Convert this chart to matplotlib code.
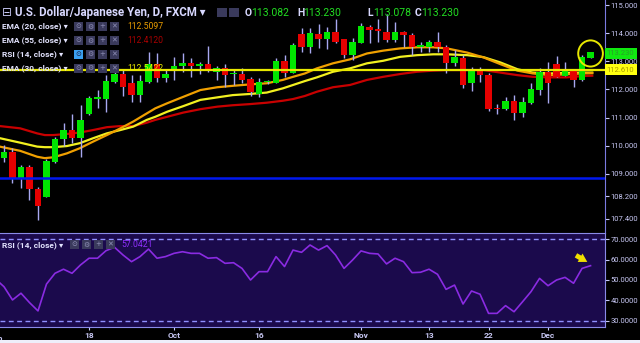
"""USD/JPY daily candles with EMAs and RSI (FXCM style), matplotlib Agg."""

import matplotlib
matplotlib.use("Agg")
import matplotlib.pyplot as plt  # noqa: E402
import matplotlib.transforms as mtransforms  # noqa: E402
import numpy as np  # noqa: E402
from matplotlib.patches import Ellipse, Rectangle  # noqa: E402

plt.rcParams["font.family"] = ["Roboto", "DejaVu Sans"]

# daily candles, Sep 4 .. Dec 8 (index 0 = Sep 4)
opens = [109.56, 109.77, 108.85, 109.26, 108.47, 108.19, 109.44, 110.23, 110.56, 110.29,
         111.13, 111.66, 111.66, 112.28, 112.54, 112.24, 111.80, 112.28, 112.90, 112.40,
         112.73, 112.83, 112.95, 112.83, 112.89, 112.63, 112.75, 112.55, 112.55, 112.36,
         111.83, 112.25, 112.24, 113.01, 112.60, 113.96, 113.52, 113.97, 113.79, 114.03,
         113.78, 113.22, 113.66, 114.23, 114.14, 114.05, 113.76, 114.05, 113.93, 113.52,
         113.52, 113.70, 113.52, 112.93, 113.11, 112.22, 112.69, 112.51, 111.31, 111.30,
         111.59, 111.15, 111.53, 111.98, 112.63, 112.90, 112.48, 112.67, 112.34, 113.13]
highs = [110.03, 109.91, 109.32, 109.32, 108.55, 109.52, 110.32, 110.80, 111.12, 111.45,
         111.77, 111.98, 112.51, 112.81, 112.69, 112.51, 112.51, 113.34, 113.31, 112.72,
         113.14, 113.28, 113.11, 112.99, 113.54, 112.83, 112.90, 112.69, 112.75, 112.45,
         112.40, 112.34, 113.11, 113.22, 113.64, 114.17, 114.17, 114.33, 114.23, 114.50,
         113.80, 113.82, 114.35, 114.29, 114.49, 114.70, 114.41, 114.07, 113.99, 113.70,
         113.76, 114.03, 113.58, 113.40, 113.22, 112.81, 112.81, 112.57, 111.48, 111.72,
         111.80, 111.72, 112.24, 112.75, 112.99, 113.19, 112.99, 112.70, 113.22, 113.33]
lows = [109.44, 108.69, 108.49, 108.08, 107.37, 108.19, 109.38, 109.99, 110.09, 109.61,
        111.09, 111.33, 111.19, 112.22, 111.77, 111.57, 111.57, 112.22, 112.28, 112.28,
        112.34, 112.63, 112.43, 112.55, 112.63, 112.34, 112.10, 112.16, 112.22, 111.77,
        111.74, 112.19, 112.22, 112.45, 112.57, 113.34, 113.31, 113.46, 113.44, 113.64,
        113.11, 113.05, 113.64, 113.64, 113.70, 113.70, 113.70, 113.52, 113.22, 113.34,
        113.34, 113.34, 112.57, 112.83, 112.04, 111.96, 112.28, 111.25, 111.13, 111.27,
        110.92, 111.03, 111.48, 111.80, 111.51, 112.43, 112.48, 112.10, 112.31, 113.12]
closes = [109.79, 108.85, 109.26, 108.46, 107.87, 109.46, 110.24, 110.56, 110.29, 110.92,
          111.69, 111.72, 112.30, 112.54, 112.10, 111.80, 112.30, 112.90, 112.40, 112.55,
          112.83, 112.95, 112.83, 112.90, 112.67, 112.75, 112.51, 112.59, 112.34, 111.90,
          112.25, 112.28, 113.01, 112.60, 113.58, 113.52, 114.00, 113.79, 114.03, 113.70,
          113.22, 113.70, 114.25, 114.11, 114.09, 113.76, 114.05, 113.93, 113.52, 113.58,
          113.70, 113.52, 112.95, 113.14, 112.16, 112.69, 112.51, 111.30, 111.29, 111.60,
          111.15, 111.57, 112.00, 112.63, 112.24, 112.45, 112.67, 112.34, 113.17, 113.32]

# EMA curves (x in candle index units)
ema_idx = [-0.5, 1.9, 3.9, 4.8, 5.8, 7.4, 8.9, 10.5, 12.1, 13.7, 15.2, 16.8, 17.8, 19.2,
           21.1, 23.1, 25.1, 26.9, 28.9, 30.9, 32.8, 34.0, 35.4, 36.8, 38.7, 40.7, 42.7,
           44.6, 46.6, 48.6, 50.5, 52.1, 54.5, 56.4, 58.4, 60.4, 62.2, 64.2, 66.2, 68.1, 69.2]
ema20 = [109.97, 109.82, 109.61, 109.56, 109.59, 109.73, 109.91, 110.15, 110.38, 110.62,
         110.86, 111.15, 111.33, 111.51, 111.74, 111.98, 112.08, 112.13, 112.18, 112.22,
         112.34, 112.45, 112.57, 112.75, 112.93, 113.07, 113.28, 113.38, 113.46, 113.50,
         113.50, 113.46, 113.31, 113.14, 112.90, 112.67, 112.57, 112.51, 112.54, 112.57, 112.58]
ema30 = [110.27, 110.11, 109.97, 109.95, 109.95, 109.99, 110.09, 110.27, 110.44, 110.56,
         110.68, 110.92, 111.03, 111.21, 111.41, 111.63, 111.72, 111.80, 111.84, 111.89,
         112.04, 112.16, 112.30, 112.43, 112.63, 112.75, 112.93, 113.02, 113.16, 113.22,
         113.25, 113.25, 113.22, 113.15, 112.96, 112.72, 112.60, 112.57, 112.59, 112.60, 112.60]
ema55 = [110.70, 110.62, 110.44, 110.38, 110.38, 110.42, 110.47, 110.56, 110.66, 110.70,
         110.70, 110.82, 110.92, 111.03, 111.18, 111.30, 111.39, 111.44, 111.48, 111.53,
         111.60, 111.66, 111.77, 111.92, 112.08, 112.16, 112.34, 112.45, 112.55, 112.63,
         112.67, 112.69, 112.69, 112.69, 112.60, 112.51, 112.45, 112.43, 112.43, 112.48, 112.49]

# RSI(14), index -1 = Sep 1
rsi = [50.5, 46.7, 40.2, 43.5, 38.9, 34.8, 48.0, 53.3, 55.3, 53.3, 57.4,
       60.7, 60.7, 64.4, 66.1, 62.3, 59.0, 61.5, 65.2, 60.7, 61.5,
       63.1, 63.9, 63.1, 63.1, 60.7, 61.0, 58.2, 58.5, 55.7, 50.0,
       54.1, 54.1, 61.5, 56.6, 64.7, 63.6, 67.2, 64.7, 66.9, 62.3,
       55.7, 59.8, 64.3, 63.1, 62.8, 57.9, 60.7, 59.0, 53.6, 53.8,
       55.3, 52.8, 45.4, 47.5, 38.2, 44.6, 43.0, 33.6, 33.6, 37.4,
       34.4, 39.3, 44.3, 50.8, 47.2, 50.0, 51.3, 48.4, 55.7, 57.04]

hline_yellow = 112.70
hline_blue = 108.87

date_idx = [10, 20, 30, 42, 50, 57, 64]
date_labels = ["18", "Oct", "16", "Nov", "13", "22", "Dec"]
price_ticks = [115.0, 114.0, 113.0, 112.0, 111.0, 110.0, 109.0, 108.2, 107.4]
rsi_ticks = [30, 40, 50, 60, 70]

LAV = "#c8c8f4"
W, H = 640, 343


def fx(px):
    return px / W


def fy(py):
    return 1 - py / H


fig = plt.figure(figsize=(6.4, 3.43), dpi=100, facecolor="black")
ax = fig.add_axes([0, fy(233), fx(605), 233 / H], facecolor="black")
rax = fig.add_axes([0, fy(327), fx(605), 94 / H], facecolor="#1b0a4c")

# candles
o, h, l, c = map(np.array, (opens, highs, lows, closes))
idx = np.arange(len(c))
ax.vlines(idx, l, h, color="#a8a8f0", lw=1, zorder=2)
ax.bar(idx, np.maximum(np.abs(c - o), 0.04), 0.74, np.minimum(o, c),
       color=np.where(c >= o, "#00e600", "#e60000"), lw=0, zorder=3)

ax.plot(ema_idx, ema55, color="#c80000", lw=1.6, zorder=1.5)
ax.plot(ema_idx, ema30, color="#f2f020", lw=1.6, zorder=1.6)
ax.plot(ema_idx, ema20, color="#f0a000", lw=1.6, zorder=1.7)
ax.axhline(hline_yellow, color="#e8e800", lw=1.6, zorder=4)
ax.axhline(hline_blue, color="#0018f0", lw=1.8, zorder=4)

ax.add_patch(Ellipse((69.0, 113.28), 2.9, 0.93, fill=False, ec="#e8e800",
                     lw=1.4, zorder=5, clip_on=False))

ax.set_xlim(-0.47, 70.7)
ax.set_ylim(106.90, 115.18)
ax.set_xticks([])
ax.yaxis.tick_right()
ax.set_yticks(price_ticks)
ax.set_yticklabels([f"{v:.3f}" for v in price_ticks])
for s in ("left", "top", "bottom"):
    ax.spines[s].set_visible(False)
ax.spines["right"].set_color("#7a7ae0")
ax.tick_params(axis="y", colors=LAV, labelsize=5.5, length=3, width=0.8, pad=1)

# RSI panel
rax.plot(np.arange(-1, len(rsi) - 1), rsi, color="#8a2be2", lw=1.2, zorder=3)
for lvl in (70, 30):
    rax.axhline(lvl, color="#9090ff", lw=1, ls=(0, (3.5, 2.5)), zorder=2)
rax.annotate("", xy=(68.9, 58.2), xytext=(67.0, 62.8),
             arrowprops=dict(arrowstyle="simple,head_width=0.7,head_length=0.6,tail_width=0.35",
                             color="#f0e000", lw=0))
rax.set_xlim(-0.47, 70.7)
rax.set_ylim(26.9, 73.1)
rax.yaxis.tick_right()
rax.set_yticks(rsi_ticks)
rax.set_yticklabels([f"{v:.4f}" for v in rsi_ticks])
rax.set_xticks(date_idx)
rax.set_xticklabels(date_labels, fontweight="bold")
rax.spines["left"].set_visible(False)
for s in ("top", "right", "bottom"):
    rax.spines[s].set_color("#8a8ae8")
rax.tick_params(axis="y", colors=LAV, labelsize=5.5, length=3, width=0.8, pad=1)
rax.tick_params(axis="x", colors=LAV, labelsize=6, length=2, width=0.8, pad=1.5)
rax.text(-1, -0.085, "Sep", transform=mtransforms.blended_transform_factory(rax.transData, rax.transAxes),
         ha="center", va="top", color=LAV, fontsize=6, fontweight="bold", clip_on=False)

# price tags on the right scale
tag_tr = mtransforms.blended_transform_factory(ax.transAxes, ax.transData)
ax.text(1.003, 113.28, "113.230", transform=tag_tr, ha="left", va="center", fontsize=5.5,
        color="#2c9a2c", clip_on=False, zorder=6,
        bbox=dict(boxstyle="square,pad=0.3", fc="#10e810", ec="none"))
ax.text(1.003, hline_yellow, "112.610", transform=tag_tr, ha="left", va="center", fontsize=5.5,
        color="#a89800", clip_on=False, zorder=6,
        bbox=dict(boxstyle="square,pad=0.3", fc="#ffff10", ec="none"))


def icons(x0, yc, n=4, active=False, size=9):
    glyphs = ["\u2299", "\u2699", "+", "\u2715"][:n]
    for k, g in enumerate(glyphs):
        fc = "#3aa0f0" if (active and k == 0) else "#3a3a5c"
        fig.patches.append(Rectangle((fx(x0 + k * 12), fy(yc + size / 2)), fx(size), size / H,
                                     transform=fig.transFigure, fc=fc, ec="none", zorder=5))
        fig.text(fx(x0 + k * 12 + size / 2), fy(yc), g, ha="center", va="center",
                 fontsize=5, color="#1a1a3a" if (active and k == 0) else "#9090b8",
                 family=["DejaVu Sans"], zorder=6)


# header
fig.text(fx(2), fy(12.5), "\u229f", fontsize=8.5, color=LAV, va="center", family=["DejaVu Sans"])
fig.text(fx(15), fy(12.5), "U.S. Dollar/Japanese Yen, D, FXCM \u25be", fontsize=8.3,
         color="#d8d8ff", va="center", fontweight="bold")
for k in range(2):
    fig.patches.append(Rectangle((fx(217 + k * 12), fy(17)), fx(10), 9 / H,
                                 transform=fig.transFigure, fc="#3a3a5c", ec="none"))
ohlc = [("O", "113.082", 245), ("H", "113.230", 297), ("L", "113.078", 367), ("C", "113.230", 415)]
for lab, val, px in ohlc:
    fig.text(fx(px), fy(12.5), lab, fontsize=7.5, color="#d8d8ff", va="center", fontweight="bold")
    fig.text(fx(px + 6.5), fy(12.5), val, fontsize=7.5, color="#22dd22", va="center")

rows = [("EMA (20, close) \u25be", 26.5, "112.5097", "#e89c00"),
        ("EMA (55, close) \u25be", 40.5, "112.4120", "#a80000"),
        ("RSI (14, close) \u25be", 54.0, None, None),
        ("EMA (30, close) \u25be", 68.3, "112.5422", "#e8e800")]
for text, yc, val, col in rows:
    fig.text(fx(2), fy(yc), text, fontsize=6, color="#e4e4ff", va="center", fontweight="bold", zorder=6)
    icons(74, yc, active=val is None)
    if val:
        fig.text(fx(127), fy(yc), val, fontsize=6.2, color=col, va="center", zorder=6)

fig.text(fx(2), fy(245), "RSI (14, close) \u25be", fontsize=6, color="#e4e4ff", va="center", fontweight="bold", zorder=6)
icons(70, 244.5, size=9)
fig.text(fx(121), fy(244.5), "57.0421", fontsize=6.2, color="#9030ff", va="center", zorder=6)

fig.patches.append(Rectangle((0, 0), 1, 3 / H, transform=fig.transFigure, fc="#eeeefa", ec="none"))

fig.savefig("out.png", dpi=100, facecolor="black")
plt.close(fig)
